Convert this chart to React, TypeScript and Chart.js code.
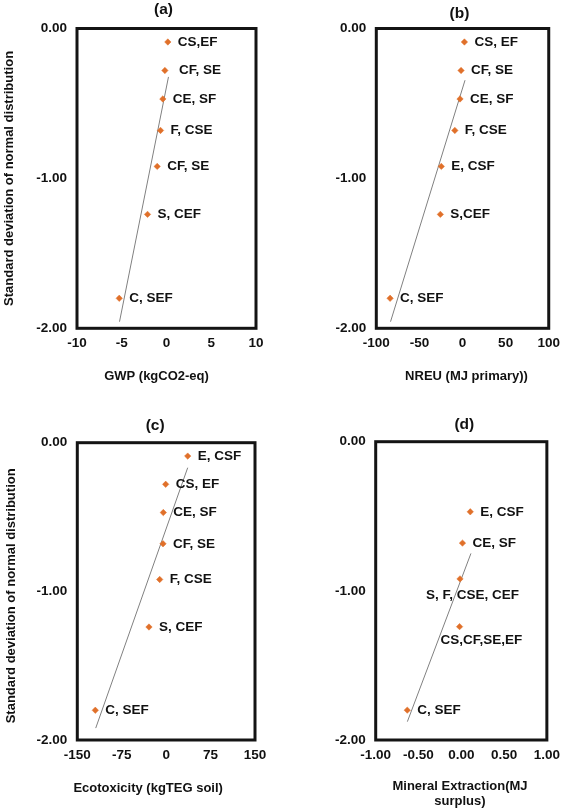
import React, { useEffect, useRef } from 'react';
import { Chart, registerables } from 'chart.js';

Chart.register(...registerables);

// ---- data ----
const yScores7 = [-0.09, -0.28, -0.47, -0.68, -0.92, -1.24, -1.8];
const yScores5 = [-0.47, -0.68, -0.92, -1.24, -1.8];

const gwpLabels = ['CS,EF', 'CF, SE', 'CE, SF', 'F, CSE', 'CF, SE', 'S, CEF', 'C, SEF'];
const gwpValues = [0.15, -0.18, -0.41, -0.67, -1.04, -2.12, -5.28];
const gwpTrendX = [-5.25, 0.22];
const gwpTrendY = [-1.956, -0.323];
const gwpTicks = [-10, 10, 5];

const nreuLabels = ['CS, EF', 'CF, SE', 'CE, SF', 'F, CSE', 'E, CSF', 'S,CEF', 'C, SEF'];
const nreuValues = [2.2, -1.7, -2.9, -8.9, -24.6, -25.7, -84];
const nreuTrendX = [-83.5, 2.9];
const nreuTrendY = [-1.956, -0.345];
const nreuTicks = [-100, 100, 50];

const ecoLabels = ['E, CSF', 'CS, EF', 'CE, SF', 'CF, SE', 'F, CSE', 'S, CEF', 'C, SEF'];
const ecoValues = [36.4, -0.8, -4.8, -5.3, -10.9, -29, -119.6];
const ecoTrendX = [-118.9, 36.4];
const ecoTrendY = [-1.92, -0.168];
const ecoTicks = [-150, 150, 75];

const minLabels = ['E, CSF', 'CE, SF', 'S, F, CSE, CEF', 'CS,CF,SE,EF', 'C, SEF'];
const minValues = [0.105, 0.014, -0.015, -0.02, -0.631];
const minTrendX = [-0.63, 0.113];
const minTrendY = [-1.877, -0.749];
const minTicks = [-1, 1, 0.5];

const yAxisTicks = [-2, 0, 1];
const yTitle = 'Standard deviation of normal distribution';

// ---- style ----
const FONT = '"Liberation Sans", Arial, Helvetica, sans-serif';
const TEXT = '#111111';
const ORANGE = '#E0702A';
const GREY = '#808080';

type Off = { dx: number; dy: number };

interface PanelCfg {
  left: number;
  top: number;
  width: number;
  height: number;
  plot: { l: number; t: number; r: number; b: number };
  title: string;
  titleOff: Off;
  xTitle: string[];
  xTitleOff: Off;
  showYTitle: boolean;
  yTitleX: number;
  yTitleDy: number;
  labels: string[];
  xs: number[];
  ys: number[];
  trendX: number[];
  trendY: number[];
  ticks: number[];
  decimals: number;
  labelOffsets: Record<number, Off>;
}

const panels: PanelCfg[] = [
  {
    left: 0, top: 0, width: 283, height: 400,
    plot: { l: 77, t: 28.5, r: 256, b: 328.3 },
    title: '(a)', titleOff: { dx: -3, dy: -18.3 },
    xTitle: ['GWP (kgCO2-eq)'], xTitleOff: { dx: -10, dy: 48.4 },
    showYTitle: true, yTitleX: 9.5, yTitleDy: 0,
    labels: gwpLabels, xs: gwpValues, ys: yScores7,
    trendX: gwpTrendX, trendY: gwpTrendY, ticks: gwpTicks, decimals: 0,
    labelOffsets: { 1: { dx: 14, dy: 0 } },
  },
  {
    left: 283, top: 0, width: 284, height: 400,
    plot: { l: 93.3, t: 28.5, r: 268.3, b: 328.3 },
    title: '(b)', titleOff: { dx: -3, dy: -15 },
    xTitle: ['NREU (MJ primary))'], xTitleOff: { dx: 4, dy: 48.4 },
    showYTitle: false, yTitleX: 0, yTitleDy: 0,
    labels: nreuLabels, xs: nreuValues, ys: yScores7,
    trendX: nreuTrendX, trendY: nreuTrendY, ticks: nreuTicks, decimals: 0,
    labelOffsets: {},
  },
  {
    left: 0, top: 400, width: 283, height: 412,
    plot: { l: 77.3, t: 42.7, r: 255, b: 340 },
    title: '(c)', titleOff: { dx: -11, dy: -16.7 },
    xTitle: ['Ecotoxicity (kgTEG soil)'], xTitleOff: { dx: -18, dy: 48.3 },
    showYTitle: true, yTitleX: 11.5, yTitleDy: 4.5,
    labels: ecoLabels, xs: ecoValues, ys: yScores7,
    trendX: ecoTrendX, trendY: ecoTrendY, ticks: ecoTicks, decimals: 0,
    labelOffsets: {},
  },
  {
    left: 283, top: 400, width: 284, height: 412,
    plot: { l: 92.7, t: 41.7, r: 269.3, b: 340 },
    title: '(d)', titleOff: { dx: 3, dy: -16.7 },
    xTitle: ['Mineral Extraction(MJ', 'surplus)'], xTitleOff: { dx: -1.3, dy: 46.7 },
    showYTitle: false, yTitleX: 0, yTitleDy: 0,
    labels: minLabels, xs: minValues, ys: yScores5,
    trendX: minTrendX, trendY: minTrendY, ticks: minTicks, decimals: 2,
    labelOffsets: { 2: { dx: -34, dy: 16 }, 3: { dx: -19, dy: 14 } },
  },
];

function Panel({ cfg }: { cfg: PanelCfg }) {
  const ref = useRef<HTMLCanvasElement | null>(null);

  useEffect(() => {
    const canvas = ref.current;
    if (!canvas) return;

    const textPlugin = {
      id: 'panelText',
      afterDatasetsDraw(chart: any) {
        const { ctx, chartArea: a } = chart;
        ctx.save();
        // frame
        ctx.strokeStyle = '#141414';
        ctx.lineWidth = 3;
        ctx.strokeRect(a.left, a.top, a.right - a.left, a.bottom - a.top);
        // point labels
        const meta = chart.getDatasetMeta(0);
        ctx.fillStyle = TEXT;
        ctx.font = `bold 13.5px ${FONT}`;
        ctx.textAlign = 'left';
        ctx.textBaseline = 'middle';
        cfg.labels.forEach((t, i) => {
          const el = meta.data[i];
          if (!el) return;
          const off = cfg.labelOffsets[i] || { dx: 10, dy: 0 };
          ctx.fillText(t, el.x + off.dx, el.y + off.dy);
        });
        const cx = (a.left + a.right) / 2;
        // panel title
        ctx.textAlign = 'center';
        ctx.font = `bold 15.5px ${FONT}`;
        ctx.fillText(cfg.title, cx + cfg.titleOff.dx, a.top + cfg.titleOff.dy);
        // x title
        ctx.font = `bold 13px ${FONT}`;
        cfg.xTitle.forEach((line, i) => {
          ctx.fillText(line, cx + cfg.xTitleOff.dx, a.bottom + cfg.xTitleOff.dy + i * 15);
        });
        // y title
        if (cfg.showYTitle) {
          ctx.save();
          ctx.translate(cfg.yTitleX, (a.top + a.bottom) / 2 + cfg.yTitleDy);
          ctx.rotate(-Math.PI / 2);
          ctx.fillText(yTitle, 0, 0);
          ctx.restore();
        }
        ctx.restore();
      },
    };

    const tickFont = { family: FONT, size: 13.5, weight: 'bold' as const };

    const chart = new Chart(canvas, {
      type: 'scatter',
      data: {
        datasets: [
          {
            label: 'points',
            data: cfg.xs.map((x, i) => ({ x, y: cfg.ys[i] })),
            pointStyle: 'rectRot',
            pointRadius: 3.2,
            pointBorderWidth: 0.5,
            backgroundColor: ORANGE,
            borderColor: ORANGE,
            showLine: false,
          },
          {
            label: 'trend',
            data: cfg.trendX.map((x, i) => ({ x, y: cfg.trendY[i] })),
            showLine: true,
            borderColor: GREY,
            borderWidth: 1,
            pointRadius: 0,
            fill: false,
          },
        ],
      },
      options: {
        responsive: false,
        animation: false,
        layout: {
          padding: {
            left: 0,
            top: cfg.plot.t,
            right: cfg.width - cfg.plot.r,
            bottom: 0,
          },
        },
        plugins: {
          legend: { display: false },
          tooltip: { enabled: false },
          title: { display: false },
        },
        scales: {
          x: {
            type: 'linear',
            min: cfg.ticks[0],
            max: cfg.ticks[1],
            afterFit: (s: any) => {
              s.height = cfg.height - cfg.plot.b;
            },
            grid: { display: false, drawTicks: false },
            border: { display: false },
            ticks: {
              stepSize: cfg.ticks[2],
              padding: 7,
              color: TEXT,
              font: tickFont,
              maxRotation: 0,
              callback: (v: any) => Number(v).toFixed(cfg.decimals),
            },
          },
          y: {
            type: 'linear',
            min: yAxisTicks[0],
            max: yAxisTicks[1],
            afterFit: (s: any) => {
              s.width = cfg.plot.l;
            },
            grid: { display: false, drawTicks: false },
            border: { display: false },
            ticks: {
              stepSize: yAxisTicks[2],
              padding: 10,
              color: TEXT,
              font: tickFont,
              callback: (v: any) => Number(v).toFixed(2),
            },
          },
        },
      },
      plugins: [textPlugin],
    });

    return () => chart.destroy();
  }, [cfg]);

  return (
    <canvas
      ref={ref}
      width={cfg.width}
      height={cfg.height}
      style={{ position: 'absolute', left: cfg.left, top: cfg.top, width: cfg.width, height: cfg.height }}
    />
  );
}

export default function App() {
  return (
    <div style={{ position: 'absolute', left: 0, top: 0, width: 567, height: 812, background: '#ffffff' }}>
      {panels.map((p, i) => (
        <Panel key={i} cfg={p} />
      ))}
    </div>
  );
}
